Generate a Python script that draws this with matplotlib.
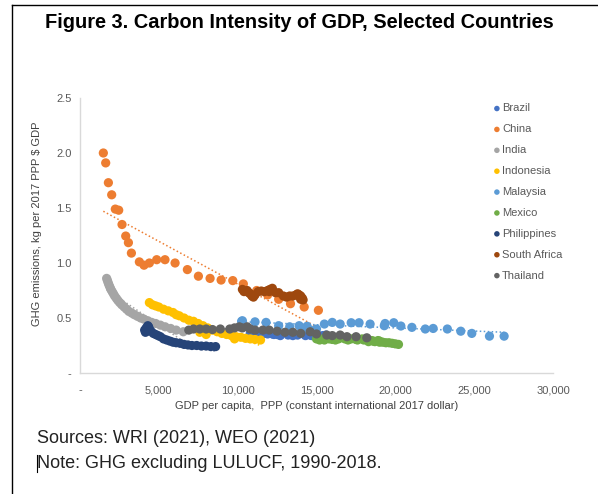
import matplotlib
matplotlib.use("Agg")
import matplotlib.pyplot as plt
from matplotlib.lines import Line2D
import numpy as np

plt.rcParams['font.family'] = ['Liberation Sans', 'DejaVu Sans']

# GDP per capita (PPP, 2017 intl $) and GHG intensity (kg per 2017 PPP $)
brazil_x = [10900, 11100, 10800, 11200, 11500, 11700, 11600, 11900, 12000, 11900, 12200, 12300, 12500, 12700,
            12700, 13200, 13500, 13800, 14300, 14700, 15200, 15400, 15600, 15500, 14900, 14300, 14400, 14600, 14700]
brazil_y = [0.37, 0.37, 0.36, 0.37, 0.365, 0.36, 0.37, 0.365, 0.36, 0.355, 0.355, 0.35, 0.35, 0.345,
            0.34, 0.345, 0.34, 0.345, 0.34, 0.345, 0.335, 0.34, 0.345, 0.34, 0.345, 0.35, 0.35, 0.345, 0.34]

china_x = [1480, 1630, 1800, 2010, 2240, 2455, 2665, 2900, 3070, 3260, 3765, 4060, 4400, 4865, 5390,
           6030, 6810, 7510, 8250, 8950, 9690, 10360, 11210, 11900, 12600, 13350, 14220, 15120]
china_y = [2.00, 1.91, 1.73, 1.62, 1.49, 1.48, 1.35, 1.245, 1.185, 1.09, 1.01, 0.98, 1.00, 1.03, 1.03,
           1.00, 0.94, 0.88, 0.86, 0.845, 0.84, 0.81, 0.75, 0.71, 0.67, 0.63, 0.60, 0.57]

india_x = [1690, 1740, 1790, 1840, 1900, 1960, 2040, 2120, 2200, 2300, 2400, 2520, 2650, 2800, 2950,
           3100, 3280, 3450, 3650, 3850, 4050, 4300, 4550, 4800, 5100, 5400, 5750, 6100, 6550]
india_y = [0.86, 0.84, 0.82, 0.80, 0.78, 0.76, 0.74, 0.72, 0.70, 0.68, 0.66, 0.64, 0.62, 0.60, 0.58,
           0.56, 0.545, 0.53, 0.515, 0.50, 0.49, 0.475, 0.46, 0.45, 0.435, 0.42, 0.405, 0.39, 0.375]

indonesia_x = [4400, 4600, 4800, 5000, 5300, 5600, 5900, 6100, 6300, 6600, 6900, 7200, 7500, 7800, 8100,
               8400, 8700, 9000, 9300, 9600, 9900, 10200, 10500, 10800, 11100, 11450, 8000, 7600, 9800]
indonesia_y = [0.64, 0.62, 0.61, 0.60, 0.58, 0.565, 0.55, 0.53, 0.52, 0.50, 0.48, 0.47, 0.45, 0.43, 0.41,
               0.39, 0.375, 0.36, 0.35, 0.34, 0.33, 0.325, 0.315, 0.31, 0.305, 0.30, 0.35, 0.37, 0.31]

malaysia_x = [10300, 10250, 11100, 11800, 12600, 13300, 13900, 14400, 14600, 14300, 15000, 15500, 16000, 16500,
              17200, 17700, 18400, 19300, 19350, 19900, 20350, 21050, 21900, 22400, 23300, 24150, 24850, 25970, 26900]
malaysia_y = [0.475, 0.47, 0.465, 0.46, 0.43, 0.42, 0.43, 0.425, 0.39, 0.41, 0.40, 0.445, 0.46, 0.445,
              0.457, 0.457, 0.445, 0.43, 0.45, 0.457, 0.427, 0.415, 0.40, 0.405, 0.40, 0.38, 0.36, 0.335, 0.335]

mexico_x = [15000, 15400, 15800, 15500, 16000, 16400, 16800, 17200, 17000, 17500, 17900, 18000, 18300, 18500,
            18600, 18300, 18700, 19000, 19200, 19400, 19600, 19800, 20000, 20200, 19000, 18900, 17600, 16200, 15200]
mexico_y = [0.31, 0.31, 0.31, 0.30, 0.305, 0.31, 0.31, 0.31, 0.30, 0.305, 0.31, 0.30, 0.30, 0.295,
            0.29, 0.285, 0.285, 0.28, 0.28, 0.275, 0.275, 0.27, 0.265, 0.26, 0.29, 0.295, 0.30, 0.30, 0.30]

philippines_x = [4100, 4150, 4200, 4300, 4350, 4300, 4250, 4400, 4500, 4650, 4800, 4950, 5100, 5300,
                 5500, 5700, 5900, 6100, 6350, 6600, 6850, 7100, 7400, 7700, 8000, 8300, 8600]
philippines_y = [0.39, 0.37, 0.41, 0.43, 0.42, 0.40, 0.38, 0.40, 0.38, 0.36, 0.35, 0.34, 0.33, 0.31,
                 0.30, 0.29, 0.28, 0.275, 0.27, 0.26, 0.255, 0.25, 0.25, 0.245, 0.245, 0.24, 0.24]

south_africa_x = [10300, 10400, 10600, 10700, 10800, 10900, 11000, 11100, 11300, 11500, 11700, 11900, 12050, 12200,
                  12000, 12400, 12600, 12900, 13100, 13300, 13500, 13700, 13800, 13900, 14000, 14100, 14150, 14000, 13950]
south_africa_y = [0.76, 0.74, 0.75, 0.73, 0.72, 0.70, 0.69, 0.71, 0.74, 0.745, 0.74, 0.75, 0.76, 0.77,
                  0.74, 0.73, 0.73, 0.70, 0.69, 0.70, 0.70, 0.71, 0.72, 0.71, 0.70, 0.68, 0.665, 0.67, 0.69]

thailand_x = [6900, 7200, 7600, 8000, 8400, 8900, 9500, 9800, 10100, 10300, 10600, 10800, 11100, 11600,
              12000, 12500, 13000, 13500, 14000, 14600, 15000, 15650, 16000, 16500, 16930, 17510, 18190]
thailand_y = [0.39, 0.40, 0.40, 0.40, 0.395, 0.40, 0.40, 0.41, 0.42, 0.41, 0.42, 0.40, 0.39, 0.39,
              0.39, 0.38, 0.37, 0.37, 0.36, 0.375, 0.355, 0.345, 0.34, 0.345, 0.33, 0.33, 0.32]

countries = ["Brazil", "China", "India", "Indonesia", "Malaysia", "Mexico",
             "Philippines", "South Africa", "Thailand"]
xs = [brazil_x, china_x, india_x, indonesia_x, malaysia_x, mexico_x, philippines_x, south_africa_x, thailand_x]
ys = [brazil_y, china_y, india_y, indonesia_y, malaysia_y, mexico_y, philippines_y, south_africa_y, thailand_y]
colors = ["#4472C4", "#ED7D31", "#A5A5A5", "#FFC000", "#5B9BD5", "#70AD47",
          "#264478", "#9E480E", "#636363"]

fig = plt.figure(figsize=(5.98, 4.94), dpi=100)
ax = fig.add_axes([80 / 598, 121 / 494, 473 / 598, 275 / 494])

for name, x, y, c in zip(countries, xs, ys, colors):
    x = np.array(x, dtype=float)
    y = np.array(y, dtype=float)
    ax.scatter(x, y, s=44, color=c, edgecolors='none', zorder=3, label=name)
    # linear trendline, dotted, as in Excel
    k, b = np.polyfit(x, y, 1)
    tx = np.array([x.min(), x.max()])
    ax.plot(tx, k * tx + b, color=c, lw=1.1, linestyle=(0, (1, 1.6)), zorder=2)

ax.set_xlim(0, 30000)
ax.set_ylim(0, 2.5)
ax.set_xticks([0, 5000, 10000, 15000, 20000, 25000, 30000])
ax.set_xticklabels(["-", "5,000", "10,000", "15,000", "20,000", "25,000", "30,000"])
ax.set_yticks([0, 0.5, 1.0, 1.5, 2.0, 2.5])
ax.set_yticklabels(["-", "0.5", "1.0", "1.5", "2.0", "2.5"])
ax.tick_params(length=0, labelsize=8, labelcolor="#595959")
ax.tick_params(axis='x', pad=9)
ax.tick_params(axis='y', pad=6)
for s in ["top", "right"]:
    ax.spines[s].set_visible(False)
for s in ["left", "bottom"]:
    ax.spines[s].set_color("#D9D9D9")
    ax.spines[s].set_linewidth(1)

fig.text(317 / 598, 1 - 406 / 494, "GDP per capita,  PPP (constant international 2017 dollar)",
         ha='center', va='center', fontsize=8, color="#404040")
fig.text(37 / 598, 1 - 224 / 494, "GHG emissions, kg per 2017 PPP $ GDP",
         ha='center', va='center', rotation=90, fontsize=8, color="#404040")

leg = ax.legend(loc='upper left', bbox_to_anchor=(488 / 598, 1 - 99 / 494), bbox_transform=fig.transFigure,
                frameon=False, fontsize=8, handletextpad=0.05, labelspacing=0.98,
                markerscale=0.6, handlelength=0.8, borderaxespad=0)
for t in leg.get_texts():
    t.set_color("#595959")

fig.text(299 / 598, 1 - 22 / 494, "Figure 3. Carbon Intensity of GDP, Selected Countries",
         ha='center', va='center', fontsize=14.4, fontweight='bold', color="black")

fig.text(37 / 598, 1 - 438 / 494, "Sources: WRI (2021), WEO (2021)", ha='left', va='center',
         fontsize=13, color="#222222")
fig.text(37 / 598, 1 - 463 / 494, "Note: GHG excluding LULUCF, 1990-2018.", ha='left', va='center',
         fontsize=13, color="#222222")

# page border and text cursor
fig.add_artist(Line2D([12 / 598, 12 / 598], [0, 1 - 5 / 494], transform=fig.transFigure, color="black", lw=1))
fig.add_artist(Line2D([12 / 598, 1], [1 - 5 / 494, 1 - 5 / 494], transform=fig.transFigure, color="black", lw=1))
fig.add_artist(Line2D([37 / 598, 37 / 598], [1 - 472 / 494, 1 - 455 / 494], transform=fig.transFigure,
                      color="black", lw=0.8))

fig.savefig("out.png", dpi=100)
